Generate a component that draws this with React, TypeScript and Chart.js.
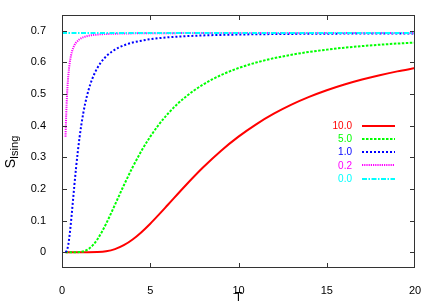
import React, { useEffect, useRef } from "react";
import { Chart, registerables } from "chart.js";

Chart.register(...registerables);

// ---- data ----
const LABELS = ["10.0", "5.0", "1.0", "0.2", "0.0"];
const COLORS = ["#ff0000", "#00ff00", "#0000ff", "#ff00ff", "#00ffff"];
const DASHES: number[][] = [[], [2.5, 1.5], [2, 2], [1.2, 1], [5, 1.5, 1.5, 1.5]];

const T_J10 = [0.2, 1, 1.5, 2, 2.5, 3, 3.5, 4, 4.5, 5, 5.5, 6, 7, 8, 9, 10, 11, 12, 13, 14, 15, 16, 17, 18, 19, 20];
const S_J10 = [0, 0, 0, 0.0005, 0.003, 0.0097, 0.0221, 0.0402, 0.0633, 0.0901, 0.1194, 0.1499, 0.211, 0.2685, 0.3202, 0.3653, 0.4043, 0.4378, 0.4665, 0.491, 0.5121, 0.5303, 0.5461, 0.5598, 0.5717, 0.5822];

const T_J5 = [0.2, 0.5, 0.75, 1, 1.25, 1.5, 1.75, 2, 2.25, 2.5, 2.75, 3, 3.5, 4, 4.5, 5, 5.5, 6, 6.5, 7, 7.5, 8, 8.5, 9, 9.5, 10, 11, 12, 13, 14, 15, 16, 17, 18, 19, 20];
const S_J5 = [0, 0, 0, 0.0005, 0.003, 0.0097, 0.0221, 0.0402, 0.0633, 0.0901, 0.1194, 0.1499, 0.211, 0.2685, 0.3202, 0.3653, 0.4043, 0.4378, 0.4665, 0.491, 0.5121, 0.5303, 0.5461, 0.5598, 0.5717, 0.5822, 0.5996, 0.6133, 0.6243, 0.6332, 0.6405, 0.6466, 0.6517, 0.656, 0.6597, 0.6628];

const T_J1 = [0.2, 0.25, 0.3, 0.35, 0.4, 0.45, 0.5, 0.55, 0.6, 0.7, 0.8, 0.9, 1.0, 1.1, 1.2, 1.3, 1.4, 1.5, 1.6, 1.7, 1.8, 1.9, 2.0, 2.2, 2.4, 2.6, 2.8, 3.0, 3.2, 3.4, 3.6, 3.8, 4.0, 5, 6, 7, 8, 10, 12, 14, 16, 18, 20];
const S_J1 = [0.0005, 0.003, 0.0097, 0.0221, 0.0402, 0.0633, 0.0901, 0.1194, 0.1499, 0.211, 0.2685, 0.3202, 0.3653, 0.4043, 0.4378, 0.4665, 0.491, 0.5121, 0.5303, 0.5461, 0.5598, 0.5717, 0.5822, 0.5996, 0.6133, 0.6243, 0.6332, 0.6405, 0.6466, 0.6517, 0.656, 0.6597, 0.6628, 0.6735, 0.6794, 0.683, 0.6854, 0.6882, 0.6897, 0.6906, 0.6912, 0.6916, 0.6919];

const T_J02 = [0.2, 0.22, 0.24, 0.26, 0.28, 0.3, 0.32, 0.34, 0.36, 0.38, 0.4, 0.44, 0.48, 0.52, 0.56, 0.6, 0.64, 0.68, 0.72, 0.76, 0.8, 1.0, 1.2, 1.4, 1.6, 2.0, 2.4, 2.8, 3.2, 3.6, 4.0, 6, 10, 20];
const S_J02 = [0.3653, 0.4043, 0.4378, 0.4665, 0.491, 0.5121, 0.5303, 0.5461, 0.5598, 0.5717, 0.5822, 0.5996, 0.6133, 0.6243, 0.6332, 0.6405, 0.6466, 0.6517, 0.656, 0.6597, 0.6628, 0.6735, 0.6794, 0.683, 0.6854, 0.6882, 0.6897, 0.6906, 0.6912, 0.6916, 0.6919, 0.6926, 0.6929, 0.6931];

const T_J0 = [0, 20];
const S_J0 = [0.6931, 0.6931];

const X_TICKS = [0, 5, 10, 15, 20];
const Y_TICKS = [0, 0.1, 0.2, 0.3, 0.4, 0.5, 0.6, 0.7];
const X_RANGE = [0, 20];
const Y_RANGE = [-0.05, 0.75];

const SERIES_T = [T_J10, T_J5, T_J1, T_J02, T_J0];
const SERIES_S = [S_J10, S_J5, S_J1, S_J02, S_J0];

const FONT = "Liberation Sans, Arial, sans-serif";
const FRAME = "#333333";

const overlayPlugin = {
  id: "overlay",
  afterDraw(chart: any) {
    const ctx = chart.ctx;
    const a = chart.chartArea;
    const xs = chart.scales.x;
    const ys = chart.scales.y;
    const L = Math.round(a.left);
    const R = Math.round(a.right);
    const Tp = Math.round(a.top);
    const B = Math.round(a.bottom);

    // frame + inward ticks on all four sides
    ctx.save();
    ctx.fillStyle = FRAME;
    ctx.fillRect(L, Tp, R - L, 1);
    ctx.fillRect(L, B - 1, R - L, 1);
    ctx.fillRect(L, Tp, 1, B - Tp);
    ctx.fillRect(R - 1, Tp, 1, B - Tp);
    const tl = 5;
    X_TICKS.forEach((v) => {
      const px = Math.round(xs.getPixelForValue(v));
      const xx = Math.min(Math.max(px, L), R - 1);
      ctx.fillRect(xx, B - tl, 1, tl);
      ctx.fillRect(xx, Tp, 1, tl);
    });
    Y_TICKS.forEach((v) => {
      const py = Math.round(ys.getPixelForValue(v));
      ctx.fillRect(L, py, tl, 1);
      ctx.fillRect(R - tl, py, tl, 1);
    });
    ctx.restore();

    // key: coloured text, then line sample
    ctx.save();
    ctx.font = "10px " + FONT;
    ctx.textAlign = "right";
    ctx.textBaseline = "middle";
    LABELS.forEach((lab, i) => {
      const y = 125.5 + i * 13.3;
      ctx.fillStyle = COLORS[i];
      ctx.fillText(lab, 352, y + 0.5);
      ctx.strokeStyle = COLORS[i];
      ctx.lineWidth = 2;
      ctx.setLineDash(DASHES[i]);
      ctx.beginPath();
      ctx.moveTo(362, Math.round(y));
      ctx.lineTo(395, Math.round(y));
      ctx.stroke();
    });
    ctx.restore();

    // y label S_Ising
    ctx.save();
    ctx.fillStyle = "#000";
    ctx.translate(15, 152);
    ctx.rotate(-Math.PI / 2);
    ctx.textBaseline = "alphabetic";
    ctx.textAlign = "left";
    ctx.font = "14px " + FONT;
    const wS = ctx.measureText("S").width;
    ctx.font = "11px " + FONT;
    const wI = ctx.measureText("Ising").width;
    const start = -(wS + wI) / 2;
    ctx.font = "14px " + FONT;
    ctx.fillText("S", start, 0);
    ctx.font = "11px " + FONT;
    ctx.fillText("Ising", start + wS, 3);
    ctx.restore();
  },
};

export default function App() {
  const ref = useRef<HTMLCanvasElement | null>(null);
  useEffect(() => {
    if (!ref.current) return;
    const datasets = LABELS.map((lab, i) => ({
      label: lab,
      data: SERIES_T[i].map((t, k) => ({ x: t, y: SERIES_S[i][k] })),
      borderColor: COLORS[i],
      backgroundColor: COLORS[i],
      borderWidth: 2,
      borderDash: DASHES[i],
      pointRadius: 0,
      fill: false,
      cubicInterpolationMode: "monotone" as const,
      order: LABELS.length - i,
    }));
    const chart = new Chart(ref.current, {
      type: "line",
      data: { datasets },
      plugins: [overlayPlugin],
      options: {
        animation: false,
        responsive: false,
        devicePixelRatio: 1,
        layout: { padding: { left: 0, right: 21, top: 15, bottom: 0 } },
        plugins: { legend: { display: false }, tooltip: { enabled: false } },
        scales: {
          x: {
            type: "linear",
            min: X_RANGE[0],
            max: X_RANGE[1],
            grid: { display: false },
            border: { display: false },
            afterBuildTicks: (s: any) => {
              s.ticks = X_TICKS.map((v) => ({ value: v }));
            },
            afterFit: (s: any) => {
              s.height = 37;
            },
            ticks: {
              color: "#000",
              font: { family: FONT, size: 11 },
              padding: 8,
              maxRotation: 0,
              callback: (v: any) => String(v),
            },
            title: {
              display: true,
              text: "T",
              color: "#000",
              font: { family: FONT, size: 12 },
              padding: { top: 0, bottom: 0 },
            },
          },
          y: {
            type: "linear",
            min: Y_RANGE[0],
            max: Y_RANGE[1],
            grid: { display: false },
            border: { display: false },
            afterBuildTicks: (s: any) => {
              s.ticks = Y_TICKS.map((v) => ({ value: v }));
            },
            afterFit: (s: any) => {
              s.width = 62;
            },
            ticks: {
              color: "#000",
              font: { family: FONT, size: 11 },
              padding: 8,
              callback: (v: any) => (Math.abs(v) < 1e-9 ? "0" : Number(v).toFixed(1)),
            },
          },
        },
      },
    });
    return () => chart.destroy();
  }, []);
  return (
    <div style={{ position: "fixed", left: 0, top: 0, width: 436, height: 305, background: "#fff" }}>
      <canvas ref={ref} width={436} height={305} style={{ display: "block" }} />
    </div>
  );
}
